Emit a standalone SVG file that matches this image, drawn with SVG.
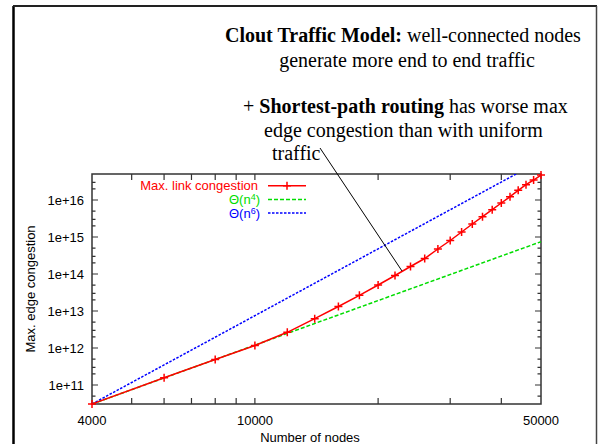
<svg xmlns="http://www.w3.org/2000/svg" xmlns:xlink="http://www.w3.org/1999/xlink" width="602" height="444" viewBox="0 0 602 444">
<style>
.ttl{font-family:"Liberation Serif","Times New Roman",serif;font-size:20px;fill:#000}
.b{font-weight:bold}
.lab{font-family:"Liberation Sans",Arial,sans-serif;font-size:13px;fill:#000}
.axis{fill:none;stroke:#333;stroke-width:1.5}
.tick{stroke:#333;stroke-width:1.2;fill:none}
.red{fill:none;stroke:#ff0000;stroke-width:1.5}
.grn{fill:none;stroke:#00dd00;stroke-width:1.5;stroke-dasharray:4 2}
.blu{fill:none;stroke:#0000ff;stroke-width:1.5;stroke-dasharray:2.5 1.5}
.mk{fill:none;stroke:#ff0000;stroke-width:1.5}
</style>
<defs>
<path id="plus" d="M-4,0H4M0,-4V4"/>
<clipPath id="plotclip"><rect x="92" y="174" width="449" height="230"/></clipPath>
</defs>
<rect width="602" height="444" fill="#fff"/>
<g id="frame">
<line x1="13.5" y1="6" x2="13.5" y2="444" stroke="#000" stroke-width="2.5"/>
<line x1="13" y1="6" x2="597" y2="6" stroke="#222" stroke-width="1.8"/>
<line x1="596.5" y1="6" x2="596.5" y2="444" stroke="#444" stroke-width="1.5"/>
</g>
<g id="title">
<text class="ttl" x="225" y="42"><tspan class="b">Clout Traffic Model:</tspan> well-connected nodes</text>
<text class="ttl" x="407" y="67" text-anchor="middle">generate more end to end traffic</text>
<text class="ttl" x="243" y="113">+ <tspan class="b">Shortest-path routing</tspan> has worse max</text>
<text class="ttl" x="264" y="137">edge congestion than with uniform</text>
<text class="ttl" x="272" y="160">traffic</text>
</g>
<g id="plot-frame">
<rect class="axis" x="92" y="174" width="449" height="230"/>
<path class="tick" d="M131.67,404v-6M164.08,404v-6M191.48,404v-6M215.22,404v-6M236.16,404v-6M254.89,404v-6M378.11,404v-6M450.19,404v-6M501.33,404v-6
M131.67,174v6M164.08,174v6M191.48,174v6M215.22,174v6M236.16,174v6M254.89,174v6M378.11,174v6M450.19,174v6M501.33,174v6"/>
<path class="tick" d="M92,385h6M92,348h6M92,311h6M92,274h6M92,237h6M92,200h6
M541,385h-6M541,348h-6M541,311h-6M541,274h-6M541,237h-6M541,200h-6
M92,396.1h3.5M92,373.9h3.5M92,367.4h3.5M92,359.1h3.5M92,336.9h3.5M92,330.4h3.5M92,322.1h3.5M92,299.9h3.5M92,293.4h3.5M92,285.1h3.5M92,262.9h3.5M92,256.4h3.5M92,248.1h3.5M92,225.9h3.5M92,219.4h3.5M92,211.1h3.5M92,188.9h3.5M92,182.4h3.5
M541,396.1h-3.5M541,373.9h-3.5M541,367.4h-3.5M541,359.1h-3.5M541,336.9h-3.5M541,330.4h-3.5M541,322.1h-3.5M541,299.9h-3.5M541,293.4h-3.5M541,285.1h-3.5M541,262.9h-3.5M541,256.4h-3.5M541,248.1h-3.5M541,225.9h-3.5M541,219.4h-3.5M541,211.1h-3.5M541,188.9h-3.5M541,182.4h-3.5"/>
</g>
<g id="y-labels" class="lab" text-anchor="end">
<text x="84" y="204.5">1e+16</text>
<text x="84" y="241.5">1e+15</text>
<text x="84" y="278.5">1e+14</text>
<text x="84" y="315.5">1e+13</text>
<text x="84" y="352.5">1e+12</text>
<text x="84" y="389.5">1e+11</text>
</g>
<g id="x-labels" class="lab" text-anchor="middle">
<text x="92" y="425">4000</text>
<text x="255" y="425">10000</text>
<text x="541" y="425">50000</text>
</g>
<text id="x-title" class="lab" x="310" y="442" text-anchor="middle">Number of nodes</text>
<text id="y-title" class="lab" transform="translate(35,289) rotate(-90)" text-anchor="middle">Max. edge congestion</text>
<g id="series" clip-path="url(#plotclip)">
<line class="grn" x1="92" y1="404" x2="541" y2="241.7"/>
<line class="blu" x1="92" y1="404" x2="541" y2="160.5"/>
<polyline class="red" points="92,404 164.1,377.7 215.2,359.5 254.9,345.5 287.3,332.3 314.7,318.7 338.4,306.5 359.4,295.3 378.1,285 395,275.5 410.5,266.5 424.7,258.5 437.9,249 450.2,240.5 461.6,232 472.3,224 482.5,216.7 492.2,209.7 501.3,203 510,196.7 518.2,190.3 526,184.7 533.6,180 541,175"/>
</g>
<g id="markers" class="mk">
<use xlink:href="#plus" x="92" y="404"/>
<use xlink:href="#plus" x="164.1" y="377.7"/>
<use xlink:href="#plus" x="215.2" y="359.5"/>
<use xlink:href="#plus" x="254.9" y="345.5"/>
<use xlink:href="#plus" x="287.3" y="332.3"/>
<use xlink:href="#plus" x="314.7" y="318.7"/>
<use xlink:href="#plus" x="338.4" y="306.5"/>
<use xlink:href="#plus" x="359.4" y="295.3"/>
<use xlink:href="#plus" x="378.1" y="285"/>
<use xlink:href="#plus" x="395" y="275.5"/>
<use xlink:href="#plus" x="410.5" y="266.5"/>
<use xlink:href="#plus" x="424.7" y="258.5"/>
<use xlink:href="#plus" x="437.9" y="249"/>
<use xlink:href="#plus" x="450.2" y="240.5"/>
<use xlink:href="#plus" x="461.6" y="232"/>
<use xlink:href="#plus" x="472.3" y="224"/>
<use xlink:href="#plus" x="482.5" y="216.7"/>
<use xlink:href="#plus" x="492.2" y="209.7"/>
<use xlink:href="#plus" x="501.3" y="203"/>
<use xlink:href="#plus" x="510" y="196.7"/>
<use xlink:href="#plus" x="518.2" y="190.3"/>
<use xlink:href="#plus" x="526" y="184.7"/>
<use xlink:href="#plus" x="533.6" y="180"/>
<use xlink:href="#plus" x="541" y="175"/>
</g>
<g id="legend">
<text class="lab" x="258" y="190" text-anchor="end" style="fill:#ff0000">Max. link congestion</text>
<line class="red" x1="268" y1="185.7" x2="306" y2="185.7"/>
<use class="mk" xlink:href="#plus" x="287" y="185.7"/>
<text class="lab" x="260" y="204" text-anchor="end" style="fill:#00dd00">Θ(n<tspan dy="-4" font-size="9">4</tspan><tspan dy="4">)</tspan></text>
<line class="grn" x1="268" y1="199.5" x2="306" y2="199.5"/>
<text class="lab" x="260" y="218" text-anchor="end" style="fill:#0000ff">Θ(n<tspan dy="-4" font-size="9">6</tspan><tspan dy="4">)</tspan></text>
<line class="blu" x1="268" y1="213" x2="306" y2="213"/>
</g>
<g id="connectors">
<line x1="320" y1="148" x2="402" y2="271" stroke="#000" stroke-width="1"/>
</g>
</svg>
